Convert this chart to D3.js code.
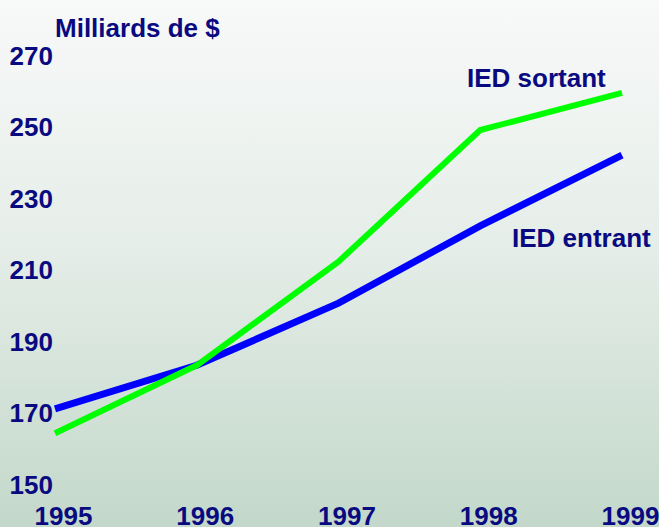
<!DOCTYPE html>
<html>
<head>
<meta charset="utf-8">
<script src="https://cdn.jsdelivr.net/npm/d3@7"></script>
<style>
    html, body { margin: 0; padding: 0; overflow: hidden; }
    svg { display: block; }
    text { font-family: "Liberation Sans", Arial, sans-serif; font-weight: bold; fill: #0a0a80; }
</style>
</head>
<body>
<div id="chart"></div>
<script>
const years = [1995, 1996, 1997, 1998, 1999];
const iedSortant = [164.2, 183.2, 212.2, 249.0, 259.4];
const iedEntrant = [171.0, 183.2, 200.6, 222.2, 242.0];
const yTicks = [150, 170, 190, 210, 230, 250, 270];

const width = 659;
const height = 527;
const fontSize = 26;

const svg = d3.select('#chart').append('svg').attr('width', width).attr('height', height);

// background gradient, white-ish at the top to pale green at the bottom
const grad = svg.append('defs').append('linearGradient')
    .attr('id', 'bg').attr('x1', 0).attr('y1', 0).attr('x2', 0).attr('y2', 1);
grad.append('stop').attr('offset', '0%').attr('stop-color', '#f8f9f9');
grad.append('stop').attr('offset', '45%').attr('stop-color', '#e6eee9');
grad.append('stop').attr('offset', '100%').attr('stop-color', '#c3d8ca');
svg.append('rect').attr('width', width).attr('height', height).attr('fill', 'url(#bg)');

const xScale = d3.scaleLinear().domain([1995, 1999]).range([55, 622]);
const yScale = d3.scaleLinear().domain([150, 270]).range([484, 55]);

// y axis labels only
const yAxis = svg.append('g')
    .attr('transform', 'translate(55, 0)')
    .call(d3.axisLeft(yScale).tickValues(yTicks).tickSize(0).tickPadding(2).tickFormat(d3.format('d')));
yAxis.select('.domain').remove();
yAxis.selectAll('text').attr('font-size', fontSize).attr('dy', '0.36em')
    .style('font-family', '"Liberation Sans", Arial, sans-serif').style('fill', '#0a0a80');

// x axis labels only
const xAxis = svg.append('g')
    .attr('transform', 'translate(8, 525)')
    .call(d3.axisBottom(xScale).tickValues(years).tickSize(0).tickPadding(0).tickFormat(d3.format('d')));
xAxis.select('.domain').remove();
xAxis.selectAll('text').attr('font-size', fontSize).attr('dy', '0').attr('y', 0)
    .style('font-family', '"Liberation Sans", Arial, sans-serif').style('fill', '#0a0a80');

const line = d3.line()
    .x((d, i) => xScale(years[i]))
    .y((d) => yScale(d));

svg.append('path').datum(iedEntrant)
    .attr('d', line).attr('fill', 'none')
    .attr('stroke', '#0000ff').attr('stroke-width', 7);

svg.append('path').datum(iedSortant)
    .attr('d', line).attr('fill', 'none')
    .attr('stroke', '#00ff00').attr('stroke-width', 6);

svg.append('text').attr('x', 55).attr('y', 37).attr('font-size', fontSize).text('Milliards de $');
svg.append('text').attr('x', 467).attr('y', 87).attr('font-size', fontSize).text('IED sortant');
svg.append('text').attr('x', 512).attr('y', 247).attr('font-size', fontSize).text('IED entrant');
</script>
</body>
</html>
